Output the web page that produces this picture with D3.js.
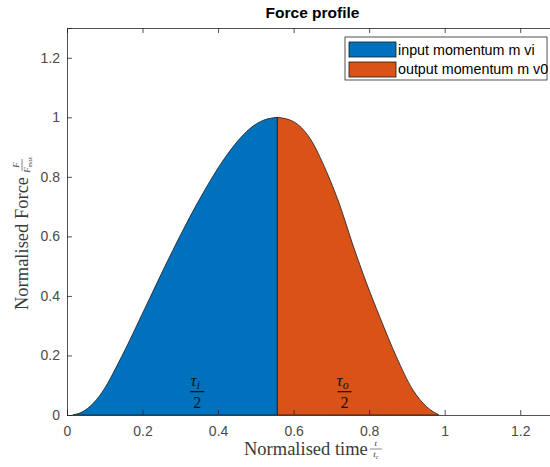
<!DOCTYPE html>
<html lang="en">
	<head>
		<meta charset="utf-8">
		<title>Force profile</title>
		<script src="https://d3js.org/d3.v7.js"></script>
		<style>
			body { margin: 0; background: white; }
			svg { display: block; }
		</style>
	</head>
	<body>
		<script>
			const w = 550;
			const h = 467;
			const margin = {top: 28, left: 67, right: -8, bottom: 52};

			// values
			const inX = [0.015, 0.04, 0.07, 0.10, 0.13, 0.16, 0.19, 0.22, 0.25, 0.28, 0.31, 0.34, 0.37, 0.40, 0.43, 0.46, 0.49, 0.52, 0.557];
			const inY = [0, 0.01, 0.04, 0.09, 0.16, 0.235, 0.315, 0.395, 0.475, 0.553, 0.628, 0.70, 0.767, 0.83, 0.885, 0.932, 0.968, 0.99, 1.0];
			const outX = [0.557, 0.599, 0.643, 0.687, 0.722, 0.757, 0.793, 0.828, 0.872, 0.916, 0.952, 0.985];
			const outY = [1.0, 0.986, 0.93, 0.818, 0.706, 0.571, 0.443, 0.33, 0.196, 0.084, 0.028, 0];
			const seriesNames = ["input momentum m vi", "output momentum m v0"];
			const colors = ["#0072BD", "#D95319"];
			const xTicks = [0, 0.2, 0.4, 0.6, 0.8, 1, 1.2];
			const yTicks = [0, 0.2, 0.4, 0.6, 0.8, 1, 1.2];

			const svg = d3.select("body").append("svg")
				.attr("width", w)
				.attr("height", h);

			const xScale = d3.scaleLinear().domain([0, 1.3]).range([margin.left, w - margin.right]);
			const yScale = d3.scaleLinear().domain([0, 1.3]).range([h - margin.bottom, margin.top]);

			const area = d3.area()
				.x(d => xScale(d[0]))
				.y0(yScale(0))
				.y1(d => yScale(d[1]))
				.curve(d3.curveMonotoneX);

			const series = [d3.zip(inX, inY), d3.zip(outX, outY)];

			svg.selectAll("path.area")
				.data(series)
				.enter().append("path")
				.attr("class", "area")
				.attr("d", d => area(d) )
				.attr("fill", (d, i) => colors[i])
				.attr("stroke", "#1a1a1a")
				.attr("stroke-width", 0.8);

			// axes (ticks point inward, box on)
			const axisColor = "#262626";
			const fmt = d => d3.format("")(d);

			const xAxis = svg.append("g")
				.attr("transform", `translate(0, ${yScale(0)})`)
				.call(d3.axisBottom(xScale).tickValues(xTicks).tickSize(-5).tickPadding(11).tickFormat(fmt));
			const xTop = svg.append("g")
				.attr("transform", `translate(0, ${yScale(1.3)})`)
				.call(d3.axisTop(xScale).tickValues(xTicks).tickSize(-5).tickFormat(""));
			const yAxis = svg.append("g")
				.attr("transform", `translate(${xScale(0)}, 0)`)
				.call(d3.axisLeft(yScale).tickValues(yTicks).tickSize(-5).tickPadding(7).tickFormat(fmt));
			const yRight = svg.append("g")
				.attr("transform", `translate(${xScale(1.3)}, 0)`)
				.call(d3.axisRight(yScale).tickValues(yTicks).tickSize(-5).tickFormat(""));

			[xAxis, xTop, yAxis, yRight].forEach(g => {
				g.selectAll("path").attr("stroke", axisColor).attr("stroke-width", 0.8);
				g.selectAll("line").attr("stroke", axisColor).attr("stroke-width", 0.8);
				g.selectAll("text")
					.attr("fill", "#4a4a4a")
					.style("font-family", "'Liberation Sans', Arial, sans-serif")
					.style("font-size", "14px");
			});

			// title
			svg.append("text")
				.attr("x", (xScale(0) + xScale(1.3)) / 2)
				.attr("y", 18)
				.attr("text-anchor", "middle")
				.style("font-family", "'Liberation Sans', Arial, sans-serif")
				.style("font-weight", "bold")
				.style("font-size", "15.5px")
				.attr("fill", "#000")
				.text("Force profile");

			const serif = "'Liberation Serif', 'DejaVu Serif', serif";
			const labelColor = "#3a3a3a";

			// small stacked fraction used in the axis labels
			function fraction(g, x, num, den, denSub) {
				const f = g.append("g").attr("transform", `translate(${x}, -6)`);
				f.append("text").attr("y", -3)
					.attr("text-anchor", "middle")
					.style("font-family", serif).style("font-style", "italic").style("font-size", "9px")
					.attr("fill", labelColor).text(num);
				f.append("line").attr("x1", -6).attr("x2", 6).attr("y1", 0).attr("y2", 0)
					.attr("stroke", labelColor).attr("stroke-width", 0.6);
				const d = f.append("text").attr("y", 8)
					.attr("text-anchor", "middle")
					.style("font-family", serif).style("font-style", "italic").style("font-size", "9px")
					.attr("fill", labelColor);
				d.append("tspan").text(den);
				d.append("tspan").attr("dy", 1.5).style("font-size", "6px").text(denSub);
			}

			// x label
			const xl = svg.append("g").attr("transform", "translate(244, 455)");
			const xText = xl.append("text")
				.style("font-family", serif).style("font-size", "18.5px")
				.attr("fill", labelColor)
				.text("Normalised time");
			fraction(xl, xText.node().getComputedTextLength() + 8, "t", "t", "c");

			// y label
			const yl = svg.append("g").attr("transform", "translate(28, 310) rotate(-90)");
			const yText = yl.append("text")
				.style("font-family", serif).style("font-size", "18.5px")
				.attr("fill", labelColor)
				.text("Normalised Force");
			fraction(yl, yText.node().getComputedTextLength() + 12, "F", "F", "max");

			// tau fractions inside the areas
			const tauLabels = [{x: 0.345, sub: "i"}, {x: 0.735, sub: "o"}];
			tauLabels.forEach(t => {
				const g = svg.append("g")
					.attr("transform", `translate(${xScale(t.x)}, ${yScale(0.075)})`);
				const tau = g.append("text").attr("x", -2).attr("y", -7)
					.attr("text-anchor", "middle")
					.style("font-family", serif).style("font-style", "italic").style("font-size", "17px")
					.attr("fill", "#111");
				tau.append("tspan").text("τ");
				tau.append("tspan").attr("dy", 3).style("font-size", "12px").text(t.sub);
				g.append("line").attr("x1", -7).attr("x2", 7).attr("y1", -1).attr("y2", -1)
					.attr("stroke", "#111").attr("stroke-width", 1.2);
				g.append("text").attr("y", 15)
					.attr("text-anchor", "middle")
					.style("font-family", serif).style("font-size", "16px")
					.attr("fill", "#111").text("2");
			});

			// legend
			const legend = svg.append("g").attr("transform", "translate(345, 37)");
			legend.append("rect")
				.attr("width", 202).attr("height", 43)
				.attr("fill", "white").attr("stroke", "#262626").attr("stroke-width", 0.8);
			seriesNames.forEach((name, i) => {
				legend.append("rect")
					.attr("x", 4).attr("y", 5 + i * 20)
					.attr("width", 47).attr("height", 15)
					.attr("fill", colors[i]).attr("stroke", "#1a1a1a").attr("stroke-width", 0.8);
				legend.append("text")
					.attr("x", 53).attr("y", 18 + i * 19)
					.style("font-family", "'Liberation Sans', Arial, sans-serif")
					.style("font-size", "14.3px")
					.attr("fill", "#000")
					.text(name);
			});
		</script>
	</body>
</html>
